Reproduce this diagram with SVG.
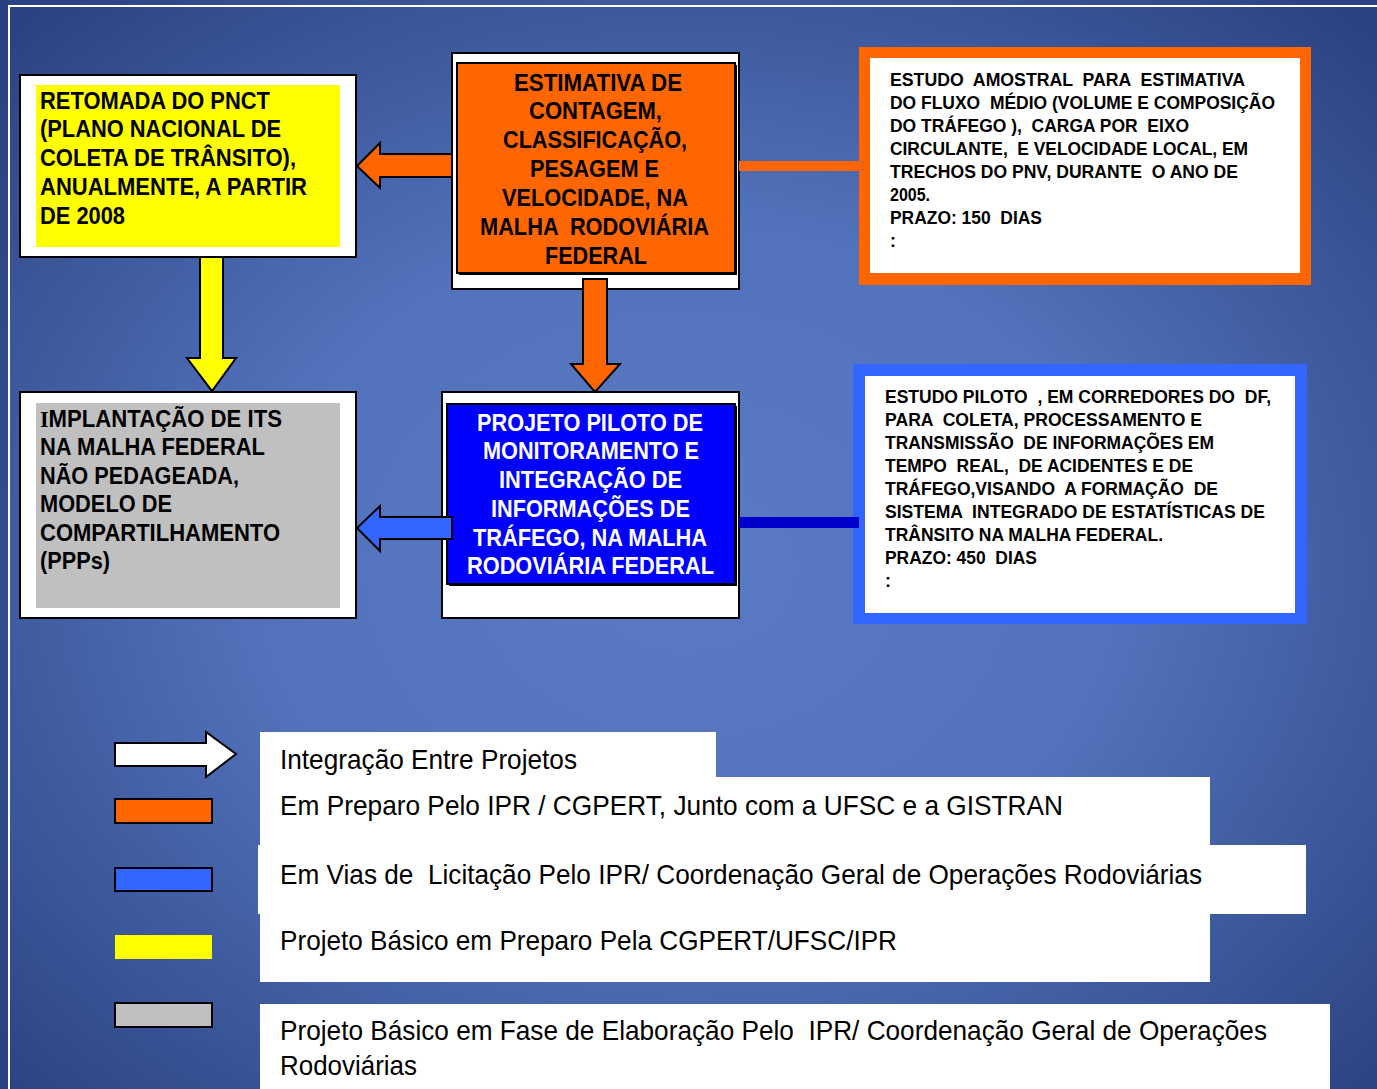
<svg xmlns="http://www.w3.org/2000/svg" width="1377" height="1089" viewBox="0 0 1377 1089">
<defs>
<radialGradient id="bg" cx="50%" cy="52%" r="70%">
<stop offset="0" stop-color="#5b7ac4"/>
<stop offset="0.45" stop-color="#5272bb"/>
<stop offset="1" stop-color="#2a4281"/>
</radialGradient>
<style>
.b{font-family:"Liberation Sans",Arial,sans-serif;font-weight:bold;font-size:24px;fill:#000;white-space:pre}
.s{font-family:"Liberation Sans",Arial,sans-serif;font-weight:bold;font-size:18px;fill:#000;white-space:pre}
.w{fill:#fff}
.lg{font-family:"Liberation Sans Narrow","Liberation Sans",Arial,sans-serif;font-size:28px;fill:#000;white-space:pre}
.box{fill:#fff;stroke:#000;stroke-width:2}
.ln{stroke:#000;stroke-width:2;stroke-linejoin:miter}
</style>
</defs>
<rect x="0" y="0" width="1377" height="1089" fill="url(#bg)"/>
<rect x="0" y="0" width="8" height="1089" fill="#2a4180" opacity="0.6"/>
<path d="M9 1089 V6 H1377" fill="none" stroke="#fff" stroke-width="2"/>

<g id="n1">
<rect class="box" x="20" y="75" width="336" height="182"/>
<rect x="36" y="85" width="304" height="162" fill="#ffff00"/>
<text class="b" x="40" y="109" textLength="230" lengthAdjust="spacingAndGlyphs">RETOMADA DO PNCT</text>
<text class="b" x="40" y="137" textLength="241" lengthAdjust="spacingAndGlyphs">(PLANO NACIONAL DE</text>
<text class="b" x="40" y="166" textLength="256" lengthAdjust="spacingAndGlyphs">COLETA DE TRÂNSITO),</text>
<text class="b" x="40" y="195" textLength="267" lengthAdjust="spacingAndGlyphs">ANUALMENTE, A PARTIR</text>
<text class="b" x="40" y="224" textLength="85" lengthAdjust="spacingAndGlyphs">DE 2008</text>
</g>

<g id="n2">
<rect class="box" x="452" y="53" width="287" height="236"/>
<rect x="459" y="65" width="278" height="210" fill="#000"/>
<rect x="457" y="63" width="278" height="210" fill="#ff6600" stroke="#000" stroke-width="2"/>
<text class="b" x="514" y="91" textLength="168" lengthAdjust="spacingAndGlyphs">ESTIMATIVA DE</text>
<text class="b" x="529" y="119" textLength="133" lengthAdjust="spacingAndGlyphs">CONTAGEM,</text>
<text class="b" x="503" y="148" textLength="184" lengthAdjust="spacingAndGlyphs">CLASSIFICAÇÃO,</text>
<text class="b" x="530" y="177" textLength="129" lengthAdjust="spacingAndGlyphs">PESAGEM E</text>
<text class="b" x="502" y="206" textLength="186" lengthAdjust="spacingAndGlyphs">VELOCIDADE, NA</text>
<text class="b" x="480" y="235" textLength="229" lengthAdjust="spacingAndGlyphs">MALHA  RODOVIÁRIA</text>
<text class="b" x="545" y="264" textLength="102" lengthAdjust="spacingAndGlyphs">FEDERAL</text>
</g>

<g id="n3">
<rect x="859" y="47" width="452" height="238" fill="#ff6600"/>
<rect x="870" y="58" width="430" height="215" fill="#fff"/>
<text class="s" x="890" y="86" textLength="355" lengthAdjust="spacingAndGlyphs">ESTUDO  AMOSTRAL  PARA  ESTIMATIVA</text>
<text class="s" x="890" y="109" textLength="385" lengthAdjust="spacingAndGlyphs">DO FLUXO  MÉDIO (VOLUME E COMPOSIÇÃO</text>
<text class="s" x="890" y="132" textLength="299" lengthAdjust="spacingAndGlyphs">DO TRÁFEGO ),  CARGA POR  EIXO</text>
<text class="s" x="890" y="155" textLength="358" lengthAdjust="spacingAndGlyphs">CIRCULANTE,  E VELOCIDADE LOCAL, EM</text>
<text class="s" x="890" y="178" textLength="348" lengthAdjust="spacingAndGlyphs">TRECHOS DO PNV, DURANTE  O ANO DE</text>
<text class="s" x="890" y="201" textLength="40" lengthAdjust="spacingAndGlyphs">2005.</text>
<text class="s" x="890" y="224" textLength="152" lengthAdjust="spacingAndGlyphs">PRAZO: 150  DIAS</text>
<text class="s" x="890" y="247">:</text>
</g>

<g id="n4">
<rect class="box" x="442" y="392" width="297" height="226"/>
<rect x="449" y="406" width="288" height="180" fill="#000"/>
<rect x="447" y="404" width="288" height="180" fill="#0000ff" stroke="#000" stroke-width="2"/>
<text class="b w" x="477" y="431" textLength="226" lengthAdjust="spacingAndGlyphs">PROJETO PILOTO DE</text>
<text class="b w" x="483" y="459" textLength="216" lengthAdjust="spacingAndGlyphs">MONITORAMENTO E</text>
<text class="b w" x="499" y="488" textLength="183" lengthAdjust="spacingAndGlyphs">INTEGRAÇÃO DE</text>
<text class="b w" x="491" y="517" textLength="199" lengthAdjust="spacingAndGlyphs">INFORMAÇÕES DE</text>
<text class="b w" x="473" y="546" textLength="234" lengthAdjust="spacingAndGlyphs">TRÁFEGO, NA MALHA</text>
<text class="b w" x="467" y="574" textLength="247" lengthAdjust="spacingAndGlyphs">RODOVIÁRIA FEDERAL</text>
</g>

<g id="n5">
<rect class="box" x="20" y="392" width="336" height="226"/>
<rect x="36" y="403" width="304" height="205" fill="#c0c0c0"/>
<text class="b" x="40" y="427" textLength="242" lengthAdjust="spacingAndGlyphs"><tspan font-family="Liberation Serif, serif">I</tspan>MPLANTAÇÃO DE ITS</text>
<text class="b" x="40" y="455" textLength="225" lengthAdjust="spacingAndGlyphs">NA MALHA FEDERAL</text>
<text class="b" x="40" y="484" textLength="199" lengthAdjust="spacingAndGlyphs">NÃO PEDAGEADA,</text>
<text class="b" x="40" y="512" textLength="132" lengthAdjust="spacingAndGlyphs">MODELO DE</text>
<text class="b" x="40" y="541" textLength="240" lengthAdjust="spacingAndGlyphs">COMPARTILHAMENTO</text>
<text class="b" x="40" y="569" textLength="70" lengthAdjust="spacingAndGlyphs">(PPPs)</text>
</g>

<g id="n6">
<rect x="853" y="364" width="454" height="260" fill="#3366ff"/>
<rect x="865" y="376" width="430" height="237" fill="#fff"/>
<text class="s" x="885" y="403" textLength="386" lengthAdjust="spacingAndGlyphs">ESTUDO PILOTO  , EM CORREDORES DO  DF,</text>
<text class="s" x="885" y="426" textLength="317" lengthAdjust="spacingAndGlyphs">PARA  COLETA, PROCESSAMENTO E</text>
<text class="s" x="885" y="449" textLength="329" lengthAdjust="spacingAndGlyphs">TRANSMISSÃO  DE INFORMAÇÕES EM</text>
<text class="s" x="885" y="472" textLength="308" lengthAdjust="spacingAndGlyphs">TEMPO  REAL,  DE ACIDENTES E DE</text>
<text class="s" x="885" y="495" textLength="333" lengthAdjust="spacingAndGlyphs">TRÁFEGO,VISANDO  A FORMAÇÃO  DE</text>
<text class="s" x="885" y="518" textLength="380" lengthAdjust="spacingAndGlyphs">SISTEMA  INTEGRADO DE ESTATÍSTICAS DE</text>
<text class="s" x="885" y="541" textLength="278" lengthAdjust="spacingAndGlyphs">TRÂNSITO NA MALHA FEDERAL.</text>
<text class="s" x="885" y="564" textLength="152" lengthAdjust="spacingAndGlyphs">PRAZO: 450  DIAS</text>
<text class="s" x="885" y="587">:</text>
</g>

<g id="connectors">
<polygon class="ln" fill="#ff6600" points="452,154 380,154 380,143 357,166 380,188 380,177 452,177"/>
<rect x="739" y="161" width="120" height="10" fill="#ff6600"/>
<polygon class="ln" fill="#ff6600" points="583,279 607,279 607,364 620,364 595,392 571,364 583,364"/>
<polygon class="ln" fill="#ffff00" points="200,257 223,257 223,358 236,358 212,391 187,358 200,358"/>
<polygon class="ln" fill="#3366ff" points="452,517 380,517 380,506 357,528 380,551 380,539 452,539"/>
<rect x="739" y="517" width="120" height="11" fill="#0000cc"/>
</g>

<g id="legend">
<rect x="260" y="732" width="456" height="46" fill="#fff"/>
<rect x="260" y="777" width="950" height="69" fill="#fff"/>
<rect x="258" y="845" width="1048" height="69" fill="#fff"/>
<rect x="260" y="913" width="950" height="69" fill="#fff"/>
<rect x="260" y="1004" width="1070" height="85" fill="#fff"/>
<polygon class="ln" fill="#fff" points="115,743 206,743 206,732 236,754 206,777 206,766 115,766"/>
<rect class="ln" x="115" y="799" width="97" height="24" fill="#ff6600"/>
<rect class="ln" x="115" y="868" width="97" height="23" fill="#3366ff"/>
<rect x="115" y="935" width="97" height="24" fill="#ffff00"/>
<rect class="ln" x="115" y="1003" width="97" height="24" fill="#c0c0c0"/>
<text class="lg" x="280" y="769" textLength="297" lengthAdjust="spacingAndGlyphs">Integração Entre Projetos</text>
<text class="lg" x="280" y="815" textLength="783" lengthAdjust="spacingAndGlyphs">Em Preparo Pelo IPR / CGPERT, Junto com a UFSC e a GISTRAN</text>
<text class="lg" x="280" y="884" textLength="922" lengthAdjust="spacingAndGlyphs">Em Vias de  Licitação Pelo IPR/ Coordenação Geral de Operações Rodoviárias</text>
<text class="lg" x="280" y="950" textLength="617" lengthAdjust="spacingAndGlyphs">Projeto Básico em Preparo Pela CGPERT/UFSC/IPR</text>
<text class="lg" x="280" y="1040" textLength="987" lengthAdjust="spacingAndGlyphs">Projeto Básico em Fase de Elaboração Pelo  IPR/ Coordenação Geral de Operações</text>
<text class="lg" x="280" y="1075" textLength="137" lengthAdjust="spacingAndGlyphs">Rodoviárias</text>
</g>
</svg>
